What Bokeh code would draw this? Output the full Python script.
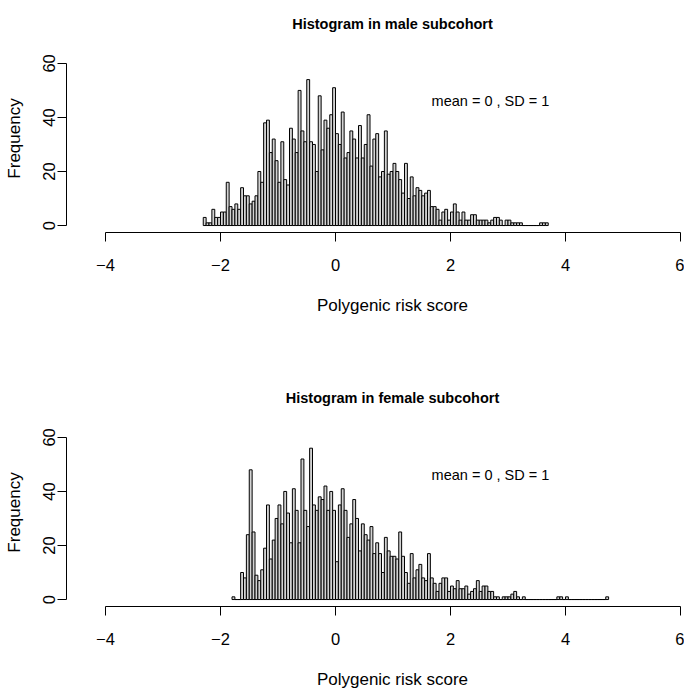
import numpy as np
from bokeh.plotting import figure
from bokeh.layouts import column
from bokeh.models import FixedTicker, LinearAxis
from bokeh.core.properties import value
from bokeh.embed import file_html
from bokeh.resources import INLINE

# ---------------- data ----------------
bin_width = 0.05

male_bin_start = -2.30
male_counts = [3, 1, 1, 6, 3, 3, 5, 5, 16, 7,
               6, 8, 6, 14, 11, 11, 8, 9, 11, 20,
               16, 38, 39, 27, 32, 24, 16, 31, 17, 15,
               36, 32, 27, 50, 35, 31, 54, 31, 30, 20,
               48, 28, 39, 36, 41, 51, 34, 30, 42, 25,
               27, 35, 32, 25, 37, 25, 30, 41, 22, 32,
               34, 18, 20, 35, 19, 20, 23, 20, 17, 12,
               23, 10, 18, 11, 14, 13, 11, 12, 13, 7,
               7, 6, 2, 5, 6, 2, 5, 8, 5, 2,
               5, 2, 2, 4, 4, 2, 2, 2, 2, 1,
               2, 3, 3, 2, 0, 2, 2, 1, 1, 1,
               1, 0, 0, 0, 0, 0, 0, 1, 1, 1]

female_bin_start = -1.80
female_counts = [1, 0, 0, 10, 8, 24, 48, 25, 9, 7,
                 11, 19, 35, 15, 22, 30, 35, 28, 40, 32,
                 21, 41, 33, 21, 52, 33, 27, 56, 35, 33,
                 38, 37, 42, 33, 40, 33, 14, 35, 41, 33,
                 23, 28, 37, 30, 18, 28, 24, 22, 27, 17,
                 21, 17, 10, 23, 18, 16, 16, 15, 25, 16,
                 10, 6, 17, 8, 11, 13, 8, 7, 17, 8,
                 6, 3, 6, 8, 8, 3, 5, 4, 7, 4,
                 4, 5, 2, 3, 4, 7, 3, 5, 5, 3,
                 3, 1, 1, 0, 1, 1, 1, 2, 3, 1,
                 0, 1, 0, 0, 0, 0, 0, 0, 0, 0,
                 0, 0, 0, 1, 1, 0, 1, 0, 0, 0,
                 0, 0, 0, 0, 0, 0, 0, 0, 0, 0,
                 1]

titles = ["Histogram in male subcohort", "Histogram in female subcohort"]
x_label = "Polygenic risk score"
y_label = "Frequency"
x_ticks = [-4, -2, 0, 2, 4, 6]
x_tick_labels = ["\u22124", "\u22122", "0", "2", "4", "6"]
y_ticks = [0, 20, 40, 60]
y_tick_labels = ["0", "20", "40", "60"]
stats_label = "mean = 0 , SD =  1"

FONT = "Liberation Sans"
TITLE_PX = 14.5
STATS_PX = 14.5
TICK_PX = 16.5
LABEL_PX = 17

GAP_TICK = 65   # invisible spacer tick, above the y axis bounds


def make_panel(title, bin_start, counts, height, border_bottom, title_offset):
    counts = np.asarray(counts, dtype=float)
    left = bin_start + bin_width * np.arange(len(counts))
    right = left + bin_width

    p = figure(width=684, height=height,
               x_range=(-4.087, 6.0696), y_range=(-2.577, 66.99),
               output_backend="svg", toolbar_location=None,
               x_axis_location="below", y_axis_location=None,
               min_border_left=100, min_border_right=0,
               min_border_top=43, min_border_bottom=border_bottom,
               background_fill_color="white", border_fill_color="white")
    p.outline_line_color = None
    p.grid.visible = False

    p.title.text = title
    p.title.align = "left"
    p.title.offset = title_offset
    p.title.text_font = FONT
    p.title.text_font_style = "bold"
    p.title.text_font_size = f"{TITLE_PX}px"
    p.title.text_color = "black"
    p.title.standoff = 26

    p.quad(left=left, right=right, bottom=0, top=counts,
           fill_color="#d3d3d3", line_color="black", line_width=1)

    p.text(x=[2.73], y=[46], text=[stats_label], text_font=value(FONT),
           text_font_size=f"{STATS_PX}px", text_align="center",
           text_baseline="middle", text_color="black")

    # white spacer axis: keeps the y axis off the plot region, as R does
    gap = LinearAxis(ticker=FixedTicker(ticks=[GAP_TICK]),
                     major_label_overrides={GAP_TICK: ""},
                     major_tick_out=34, major_tick_in=0,
                     major_tick_line_color="white", major_tick_line_width=1,
                     minor_tick_line_color=None, axis_line_color=None,
                     major_label_standoff=0)
    p.add_layout(gap, "left")
    ya = LinearAxis(ticker=FixedTicker(ticks=y_ticks),
                    major_label_overrides={t: l for t, l in zip(y_ticks, y_tick_labels)},
                    bounds=(y_ticks[0], y_ticks[-1]), axis_label=y_label,
                    major_label_orientation="vertical")
    p.add_layout(ya, "left")

    xa = p.xaxis[0]
    xa.ticker = FixedTicker(ticks=x_ticks)
    xa.major_label_overrides = {t: l for t, l in zip(x_ticks, x_tick_labels)}
    xa.bounds = (x_ticks[0], x_ticks[-1])
    xa.axis_label = x_label

    for ax in (xa, ya):
        ax.axis_line_color = "black"
        ax.major_tick_line_color = "black"
        ax.minor_tick_line_color = None
        ax.major_tick_out = 9
        ax.major_tick_in = 0
        ax.major_label_text_font = FONT
        ax.major_label_text_font_size = f"{TICK_PX}px"
        ax.major_label_text_color = "black"
        ax.axis_label_text_font = FONT
        ax.axis_label_text_font_size = f"{LABEL_PX}px"
        ax.axis_label_text_font_style = "normal"
        ax.axis_label_text_color = "black"
    xa.major_label_standoff = 17
    xa.axis_label_standoff = 22
    ya.major_label_standoff = 2
    ya.axis_label_standoff = 17
    return p


p1 = make_panel(titles[0], male_bin_start, male_counts, 374, 142, 191.7)
p2 = make_panel(titles[1], female_bin_start, female_counts, 319, 87, 185.3)

layout = column(p1, p2, spacing=0)
open("out.html", "w").write(file_html(layout, INLINE))
